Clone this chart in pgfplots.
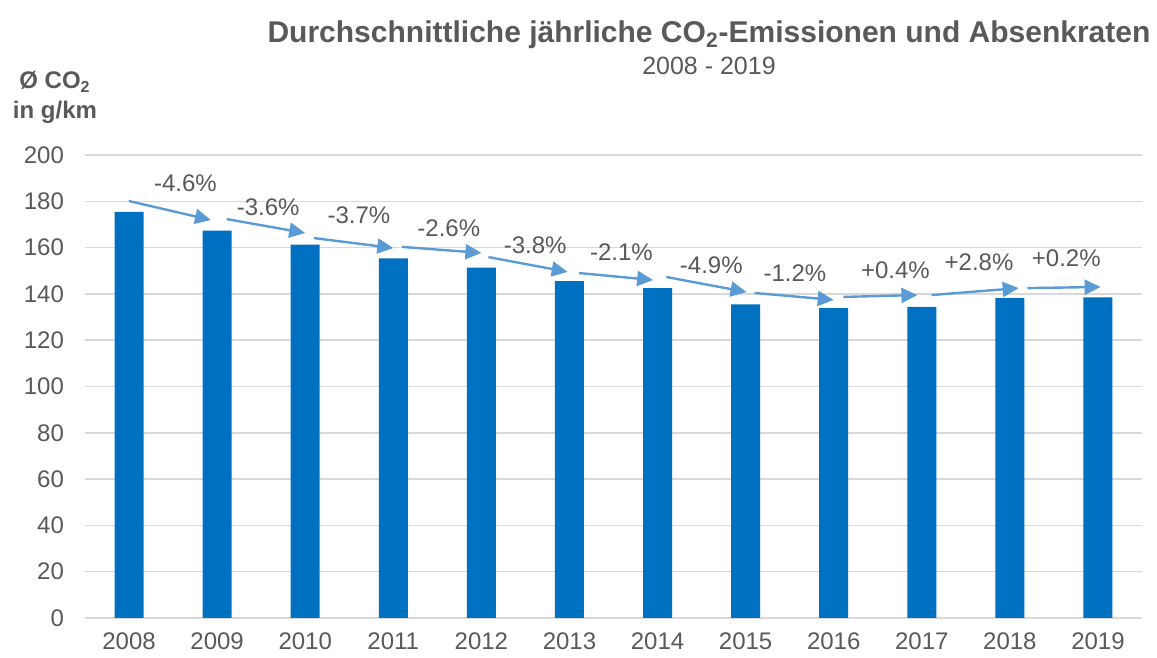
\documentclass[border=0pt]{standalone}
\usepackage{pgfplots}
\pgfplotsset{compat=1.18}
\usetikzlibrary{arrows.meta}
\usepackage{fontspec}
\setmainfont{Liberation Sans}
\definecolor{barblue}{HTML}{0070C0}
\definecolor{arrowblue}{HTML}{5B9BD5}
\definecolor{txtgray}{HTML}{595959}
\definecolor{gridgray}{HTML}{D9D9D9}

\begin{document}
\begin{tikzpicture}
\useasboundingbox (-42.5pt,-20pt) rectangle (536pt,309pt);
\begin{axis}[
    at={(0,0)}, anchor=south west,
    scale only axis,
    width=528.5pt, height=231.5pt,
    xmin=-0.5, xmax=11.5,
    ymin=0, ymax=200,
    xtick={0,...,11},
    xticklabels={2008,2009,2010,2011,2012,2013,2014,2015,2016,2017,2018,2019},
    ytick={0,20,...,200},
    ymajorgrids=true,
    grid style={gridgray, line width=0.75pt},
    axis line style={draw=none},
    major tick length=0pt,
    tick label style={font=\fontsize{12}{14}\selectfont, text=txtgray},
    yticklabel style={xshift=-7pt},
    xticklabel style={yshift=-4pt},
    /pgf/number format/assume math mode=true,
    clip=false,
]
% Balken
\addplot[ybar, bar width=14.5pt, fill=barblue, draw=none] coordinates {
    (0,175.4) (1,167.3) (2,161.3) (3,155.3) (4,151.3) (5,145.5)
    (6,142.5) (7,135.5) (8,133.9) (9,134.4) (10,138.2) (11,138.5)
};
% Pfeile
\addplot[arrowblue, line width=1.2pt, -{Triangle[length=8pt,width=7.5pt]},
    quiver={u=\thisrow{u}, v=\thisrow{v}}] table {
x     y      u     v
0.00  180.1  0.93  -8.2
1.11  172.3  0.89  -6.0
2.10  164.1  0.90  -4.3
3.10  160.3  0.90  -2.6
4.08  155.9  0.90  -6.4
5.11  149.0  0.84  -3.0
6.10  147.3  0.91  -6.5
7.10  140.4  0.90  -3.0
8.11  138.7  0.84   0.8
9.11  139.5  0.99   3.0
10.20 142.5  0.83   0.5
};
% Beschriftungen
\addplot[draw=none, nodes near coords, point meta=explicit symbolic,
    every node near coord/.style={anchor=center, font=\fontsize{12}{14}\selectfont, text=txtgray}]
    table[meta=lab] {
x     y      lab
0.64  188.0  -4.6\%
1.58  177.5  -3.6\%
2.61  174.0  -3.7\%
3.63  168.5  -2.6\%
4.61  161.0  -3.8\%
5.59  158.0  -2.1\%
6.61  152.5  -4.9\%
7.56  149.0  -1.2\%
8.70  150.3  +0.4\%
9.65  153.8  +2.8\%
10.64 155.5  +0.2\%
};
\end{axis}
\node[anchor=base, text=txtgray, font=\bfseries\fontsize{15}{18}\selectfont]
    at (312pt,287.6pt) {Durchschnittliche jährliche CO\textsubscript{2}-Emissionen und Absenkraten};
\node[anchor=base, text=txtgray, font=\fontsize{12.5}{15}\selectfont]
    at (312pt,271.5pt) {2008 - 2019};
\node[anchor=base, text=txtgray, font=\bfseries\fontsize{12}{14}\selectfont]
    at (-15pt,264.5pt) {Ø CO\textsubscript{2}};
\node[anchor=base, text=txtgray, font=\bfseries\fontsize{12}{14}\selectfont]
    at (-15pt,249.5pt) {in g/km};
\end{tikzpicture}
\end{document}
